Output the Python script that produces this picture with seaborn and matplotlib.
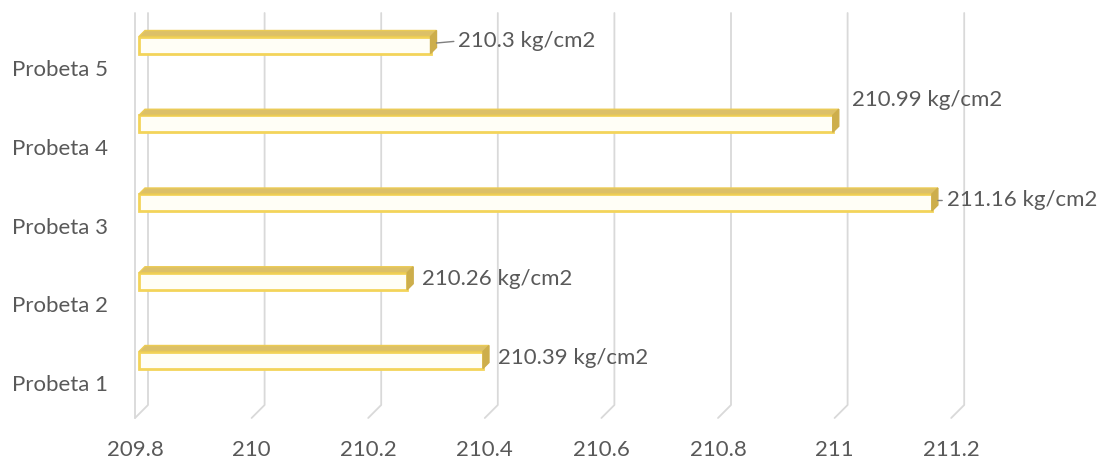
"""Resistencia a compresión por probeta (barras horizontales estilo Excel 3D)."""

import matplotlib

matplotlib.use("Agg")
import matplotlib.pyplot as plt
import numpy as np
import pandas as pd
import seaborn as sns
from matplotlib.patches import Polygon

# --- Datos ---
categories = ["Probeta 5", "Probeta 4", "Probeta 3", "Probeta 2", "Probeta 1"]
resistencia = [210.3, 210.99, 211.16, 210.26, 210.39]
axis_min = 209.8
tick_values = [209.8, 210, 210.2, 210.4, 210.6, 210.8, 211, 211.2]
unit = "kg/cm2"

df = pd.DataFrame({"Probeta": categories, "Resistencia": resistencia})
df["Delta"] = df["Resistencia"] - axis_min

sns.set_style("white")
plt.rcParams["font.family"] = ["Lato", "DejaVu Sans"]

W, H = 1114, 463
fig = plt.figure(figsize=(W / 100, H / 100), dpi=100)
ax = fig.add_axes([120 / W, 58 / H, 990 / W, 392 / H])

text_color = "#595959"
grid_color = "#D9D9D9"
fs = 16
px = 1 / 583      # data units per pixel (x)
py = 1 / 78.75    # category units per pixel (y)

sns.barplot(
    data=df, x="Delta", y="Probeta", order=categories, orient="h",
    width=17 * py, color="#FFFEF6", saturation=1, edgecolor="#F3D45A",
    linewidth=2, ax=ax, zorder=3,
)

ax.set_xlim(-19 * px, 971 * px)
ax.set_ylim((405 - 45) * py, (13 - 45) * py)

# Gitter mit "Boden" im 3D-Look
xt = ax.get_xaxis_transform()
floor = -13 / 392
for v in tick_values:
    d = v - axis_min
    ax.plot([d + 9 * px, d + 9 * px, d - 4 * px], [1, 0, floor],
            transform=xt, color=grid_color, lw=1.3, clip_on=False, zorder=1)
ax.plot([-4 * px, -4 * px], [1, floor], transform=xt,
        color=grid_color, lw=1.3, clip_on=False, zorder=1)

# Oberseite und Stirnseite der Balken
dx, dy = 6 * px, 6 * py
for patch in list(ax.patches):
    x0, y0 = patch.get_x(), patch.get_y()
    w, h = patch.get_width(), patch.get_height()
    top = Polygon([(x0, y0), (x0 + w, y0), (x0 + w + dx, y0 - dy), (x0 + dx, y0 - dy)],
                  closed=True, facecolor="#DCC068", edgecolor="#EBCB55", lw=1, zorder=4)
    cap = Polygon([(x0 + w, y0), (x0 + w + dx, y0 - dy), (x0 + w + dx, y0 + h - dy), (x0 + w, y0 + h)],
                  closed=True, facecolor="#CDAE4C", edgecolor="#CDAE4C", lw=1, zorder=4)
    ax.add_patch(top)
    ax.add_patch(cap)

# Datenbeschriftungen (Offsets in Pixeln, Führungslinie ja/nein)
label_layout = {
    "Probeta 5": (28, 2, True),
    "Probeta 4": (19, 22, False),
    "Probeta 3": (15, 0, True),
}
for i, (cat, val, d) in enumerate(zip(categories, resistencia, df["Delta"])):
    ox, oy, leader = label_layout.get(cat, (15, 0, False))
    ax.annotate(
        f"{val:g} {unit}", xy=(d + dx, i - 2 * py), xytext=(ox - 6, oy),
        textcoords="offset pixels", ha="left", va="center",
        fontsize=fs, color=text_color, zorder=5,
        arrowprops=dict(arrowstyle="-", color="#7F7F7F", lw=1, shrinkA=1,
                        shrinkB=0, relpos=(0, 0.5)) if leader else None,
    )

ax.set_yticks(np.arange(len(categories)) + 23 * py, categories)
ax.set_xticks([v - axis_min - 4 * px for v in tick_values], [f"{v:g}" for v in tick_values])
ax.tick_params(axis="y", length=0, pad=8.5, labelsize=fs, labelcolor=text_color)
ax.tick_params(axis="x", length=0, pad=25, labelsize=fs, labelcolor=text_color)
ax.set_xlabel("")
ax.set_ylabel("")
for s in ax.spines.values():
    s.set_visible(False)

fig.savefig("out.png", dpi=100)
plt.close(fig)
